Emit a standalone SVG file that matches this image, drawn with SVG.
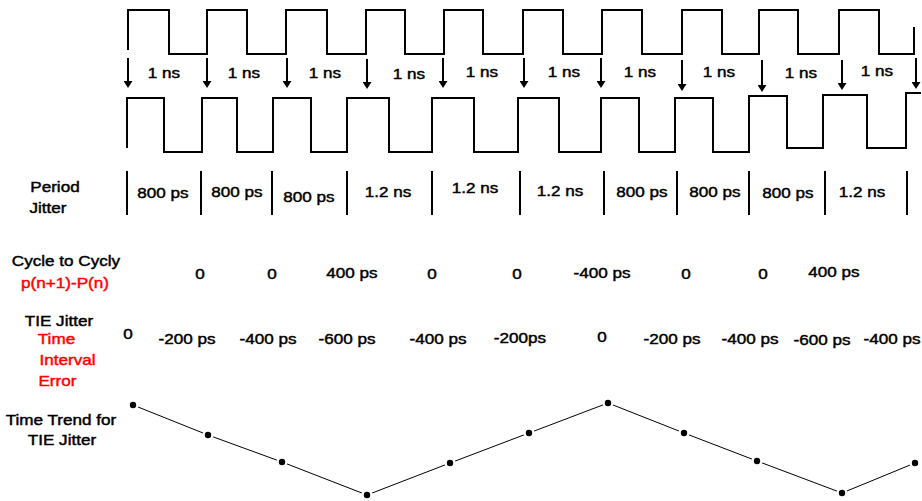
<svg xmlns="http://www.w3.org/2000/svg" width="922" height="501" viewBox="0 0 922 501">
<style>
.w{fill:none;stroke:#000;stroke-width:2}
.bar{stroke:#000;stroke-width:2}
.ar{stroke:#000;stroke-width:2;marker-end:url(#ah)}
.tl{fill:none;stroke:#000;stroke-width:1}
.t{font-family:"Liberation Sans",Arial,sans-serif;font-size:15px;fill:#000;stroke:#000;stroke-width:0.45;text-anchor:middle;transform-box:fill-box;transform-origin:center;transform:scaleX(1.14)}
.r{fill:#f00;stroke:#f00}
</style>
<defs>
<marker id="ah" markerUnits="userSpaceOnUse" viewBox="0 0 7 9" markerWidth="7" markerHeight="9" refX="2" refY="4.5" orient="auto">
<path d="M0,0 L7,4.5 L0,9 Z" fill="#000"/>
</marker>
<g id="dot"><circle r="5.5" fill="#fff"/><circle r="3.2" fill="#000"/></g>
</defs>
<rect width="922" height="501" fill="#fff"/>

<g id="clock-top">
<path class="w" d="M128,50 V10 H169 V54 H207 V10 H247 V54 H286 V10 H327 V54 H366 V10 H405 V54 H444 V10 H483 V54 H523 V10 H563 V54 H602 V10 H642 V54 H682 V10 H722 V54 H759 V10 H798 V54 H839 V10 H879 V54 H914 V27"/>
</g>

<g id="clock-jittered">
<path class="w" d="M127,148 V98 H164 V152 H202 V98 H237 V152 H273 V98 H311 V152 H347 V98 H389 V152 H432 V98 H474 V152 H518 V98 H559 V152 H601 V98 H639 V152 H675 V98 H713 V152 H749 V96 H787 V148 H823 V95 H867 V148 H906 V93 H921"/>
</g>

<g id="connectors">
<line class="ar" x1="128" y1="58" x2="128" y2="83"/>
<line class="ar" x1="207" y1="58" x2="207" y2="83"/>
<line class="ar" x1="287" y1="58" x2="287" y2="83"/>
<line class="ar" x1="367" y1="59" x2="367" y2="84"/>
<line class="ar" x1="443" y1="58" x2="443" y2="83"/>
<line class="ar" x1="524" y1="58" x2="524" y2="83"/>
<line class="ar" x1="601" y1="58" x2="601" y2="83"/>
<line class="ar" x1="682" y1="60" x2="682" y2="86"/>
<line class="ar" x1="762" y1="60" x2="762" y2="87"/>
<line class="ar" x1="842" y1="60" x2="842" y2="85"/>
<line class="ar" x1="916" y1="58" x2="916" y2="84"/>
</g>

<g id="ns-labels">
<text class="t" x="164" y="78">1 ns</text>
<text class="t" x="244" y="78">1 ns</text>
<text class="t" x="325" y="78">1 ns</text>
<text class="t" x="409" y="79">1 ns</text>
<text class="t" x="482" y="77">1 ns</text>
<text class="t" x="564" y="77">1 ns</text>
<text class="t" x="640" y="77">1 ns</text>
<text class="t" x="719" y="77">1 ns</text>
<text class="t" x="801" y="78">1 ns</text>
<text class="t" x="877" y="76">1 ns</text>
</g>

<g id="period-jitter">
<text class="t" x="55" y="192">Period</text>
<text class="t" x="48" y="213">Jitter</text>
<line class="bar" x1="127" y1="171" x2="127" y2="215"/>
<line class="bar" x1="201" y1="171" x2="201" y2="215"/>
<line class="bar" x1="272" y1="171" x2="272" y2="215"/>
<line class="bar" x1="347" y1="171" x2="347" y2="215"/>
<line class="bar" x1="432" y1="171" x2="432" y2="215"/>
<line class="bar" x1="520" y1="171" x2="520" y2="215"/>
<line class="bar" x1="604" y1="171" x2="604" y2="215"/>
<line class="bar" x1="677" y1="171" x2="677" y2="215"/>
<line class="bar" x1="749" y1="171" x2="749" y2="215"/>
<line class="bar" x1="825" y1="171" x2="825" y2="215"/>
<line class="bar" x1="907" y1="171" x2="907" y2="215"/>
<text class="t" x="163" y="198">800 ps</text>
<text class="t" x="237" y="197">800 ps</text>
<text class="t" x="309" y="202">800 ps</text>
<text class="t" x="388" y="197">1.2 ns</text>
<text class="t" x="475" y="193">1.2 ns</text>
<text class="t" x="560" y="196">1.2 ns</text>
<text class="t" x="642" y="197">800 ps</text>
<text class="t" x="715" y="197">800 ps</text>
<text class="t" x="788" y="198">800 ps</text>
<text class="t" x="862" y="197">1.2 ns</text>
</g>

<g id="cycle-to-cycle">
<text class="t" x="66" y="266">Cycle to Cycly</text>
<text class="t r" x="65" y="288">p(n+1)-P(n)</text>
<text class="t" x="200" y="279">0</text>
<text class="t" x="272" y="279">0</text>
<text class="t" x="352" y="278">400 ps</text>
<text class="t" x="432" y="279">0</text>
<text class="t" x="517" y="279">0</text>
<text class="t" x="602" y="278">-400 ps</text>
<text class="t" x="686" y="279">0</text>
<text class="t" x="763" y="279">0</text>
<text class="t" x="834" y="277">400 ps</text>
</g>

<g id="tie-jitter">
<text class="t" x="59" y="326">TIE Jitter</text>
<text class="t r" x="56.5" y="344">Time</text>
<text class="t r" x="67.5" y="365">Interval</text>
<text class="t r" x="57.5" y="386">Error</text>
<text class="t" x="128" y="339">0</text>
<text class="t" x="187" y="344">-200 ps</text>
<text class="t" x="268" y="344">-400 ps</text>
<text class="t" x="347" y="344">-600 ps</text>
<text class="t" x="438" y="344">-400 ps</text>
<text class="t" x="520" y="343">-200ps</text>
<text class="t" x="602" y="342">0</text>
<text class="t" x="672" y="344">-200 ps</text>
<text class="t" x="750" y="344">-400 ps</text>
<text class="t" x="822" y="345">-600 ps</text>
<text class="t" x="892" y="344">-400 ps</text>
</g>

<g id="time-trend">
<text class="t" x="61" y="425">Time Trend for</text>
<text class="t" x="62" y="445">TIE Jitter</text>
<polyline class="tl" points="133,405 208,435 282,462 367,495 450,463 529,433 608,403 684,433 757,461 842,493 915,463"/>
<use href="#dot" x="133" y="405"/>
<use href="#dot" x="208" y="435"/>
<use href="#dot" x="282" y="462"/>
<use href="#dot" x="367" y="495"/>
<use href="#dot" x="450" y="463"/>
<use href="#dot" x="529" y="433"/>
<use href="#dot" x="608" y="403"/>
<use href="#dot" x="684" y="433"/>
<use href="#dot" x="757" y="461"/>
<use href="#dot" x="842" y="493"/>
<use href="#dot" x="915" y="463"/>
</g>
</svg>
